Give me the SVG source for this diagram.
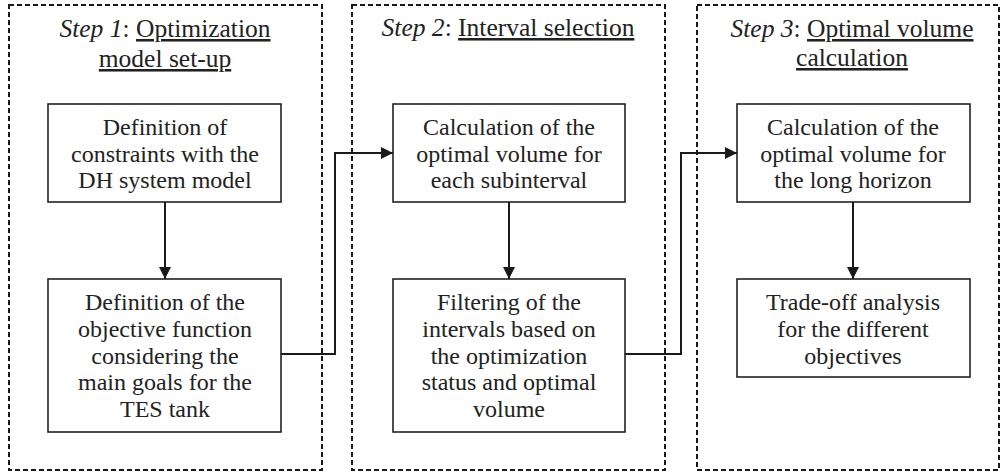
<svg xmlns="http://www.w3.org/2000/svg" width="1001" height="475" viewBox="0 0 1001 475">
<defs>
<style>
.step{fill:none;stroke:#1a1a1a;stroke-width:2;stroke-dasharray:5 3}
.box{fill:#fff;stroke:#222;stroke-width:1.6}
text{font-family:"Liberation Serif",serif;font-size:24px;fill:#222;text-anchor:middle}
.ttl{font-size:25.5px}
.it{font-style:italic}
.ul{text-decoration:underline}
.conn{fill:none;stroke:#1a1a1a;stroke-width:2;marker-end:url(#ah)}
</style>
<marker id="ah" viewBox="0 0 10 10" refX="10" refY="5" markerWidth="6" markerHeight="6" markerUnits="strokeWidth" orient="auto">
<path d="M0,0 L10,5 L0,10 Z" fill="#1a1a1a"/>
</marker>
</defs>
<rect width="1001" height="475" fill="#fff"/>
<g id="step1">
<rect class="step" x="9" y="5" width="313" height="465"/>
<text class="ttl" x="165" y="37"><tspan class="it">Step 1</tspan>: <tspan class="ul">Optimization</tspan></text>
<text class="ttl" x="165" y="67"><tspan class="ul">model set-up</tspan></text>
</g>
<g id="step2">
<rect class="step" x="352" y="5" width="313" height="465"/>
<text class="ttl" x="508" y="36"><tspan class="it">Step 2</tspan>: <tspan class="ul">Interval selection</tspan></text>
</g>
<g id="step3">
<rect class="step" x="697" y="5" width="302" height="465"/>
<text class="ttl" x="852" y="37"><tspan class="it">Step 3</tspan>: <tspan class="ul">Optimal volume</tspan></text>
<text class="ttl" x="852" y="66"><tspan class="ul">calculation</tspan></text>
</g>
<g id="n1a">
<rect class="box" x="48" y="104" width="233" height="98"/>
<text x="165" y="135">Definition of</text>
<text x="165" y="162">constraints with the</text>
<text x="165" y="188">DH system model</text>
</g>
<g id="n1b">
<rect class="box" x="48" y="279" width="233" height="153"/>
<text x="165" y="310">Definition of the</text>
<text x="165" y="337">objective function</text>
<text x="165" y="364">considering the</text>
<text x="165" y="390">main goals for the</text>
<text x="165" y="417">TES tank</text>
</g>
<g id="n2a">
<rect class="box" x="393" y="104" width="232" height="98"/>
<text x="509" y="135">Calculation of the</text>
<text x="509" y="162">optimal volume for</text>
<text x="509" y="188">each subinterval</text>
</g>
<g id="n2b">
<rect class="box" x="393" y="279" width="232" height="153"/>
<text x="509" y="310">Filtering of the</text>
<text x="509" y="337">intervals based on</text>
<text x="509" y="364">the optimization</text>
<text x="509" y="390">status and optimal</text>
<text x="509" y="417">volume</text>
</g>
<g id="n3a">
<rect class="box" x="737" y="104" width="233" height="98"/>
<text x="853" y="135">Calculation of the</text>
<text x="853" y="162">optimal volume for</text>
<text x="853" y="188">the long horizon</text>
</g>
<g id="n3b">
<rect class="box" x="737" y="279" width="233" height="98"/>
<text x="853" y="310">Trade-off analysis</text>
<text x="853" y="337">for the different</text>
<text x="853" y="364">objectives</text>
</g>
<g id="connectors">
<path class="conn" d="M165,202 V279"/>
<path class="conn" d="M509,202 V279"/>
<path class="conn" d="M853,202 V279"/>
<path class="conn" d="M281,354 H335 V153 H393"/>
<path class="conn" d="M625,354 H681 V153 H737"/>
</g>
</svg>
